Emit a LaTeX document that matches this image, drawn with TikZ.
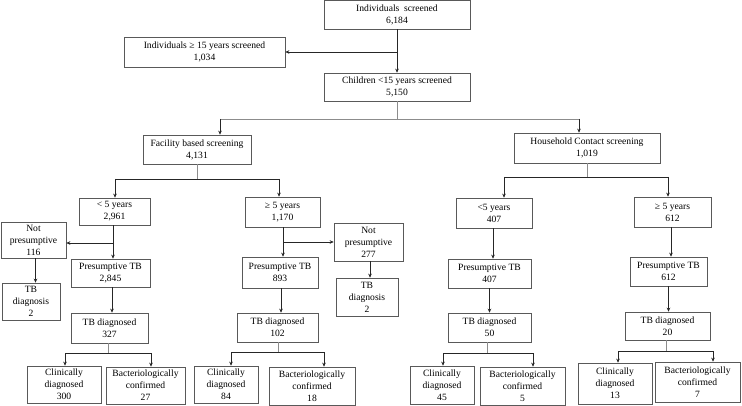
\documentclass[tikz,border=0pt]{standalone}
\usepackage{fontspec}
\setmainfont{Liberation Serif}
\usetikzlibrary{arrows.meta}
\tikzset{
  box/.style={draw=black!65, line width=0.7pt, fill=white, align=center, inner sep=0pt,
    font=\fontsize{9.6}{12}\selectfont},
  arr/.style={draw=black!85, line width=0.7pt, -{Stealth[length=4pt,width=3.6pt]}},
  ln/.style={draw=black!85, line width=0.7pt},
  stem/.style={draw=black!45, line width=0.7pt}
}
\newcommand{\bx}[6]{%
  \pgfmathsetmacro{\cxx}{(#2+#3)/2}\pgfmathsetmacro{\cyy}{(#4+#5)/2}%
  \pgfmathsetmacro{\ww}{#3-#2}\pgfmathsetmacro{\hh}{#5-#4}%
  \node[box, minimum width=\ww pt, minimum height=\hh pt] (#1) at (\cxx,\cyy) {#6};}
\begin{document}
\begin{tikzpicture}[x=1pt,y=-1pt]
\useasboundingbox[fill=white] (0,0) rectangle (742,406);
% boxes
\bx{top}{324}{470}{0.6}{29}{Individuals~ screened\\6,184}
\bx{adult}{124}{285}{37}{67}{Individuals ≥ 15 years screened\\1,034}
\bx{children}{324}{470}{73}{101}{Children <15 years screened\\5,150}
\bx{facility}{143}{251}{135}{164}{Facility based screening\\4,131}
\bx{household}{514}{660}{133}{163}{Household Contact screening\\1,019}
\bx{fu}{79}{150}{198}{225}{< 5 years\\2,961}
\bx{fo}{245}{320}{197}{227}{≥ 5 years\\1,170}
\bx{hu}{456}{532}{198}{228}{<5 years\\407}
\bx{ho}{634}{711}{197}{227}{≥ 5 years\\612}
\bx{npa}{1}{66}{222}{258}{Not\\presumptive\\116}
\bx{npb}{334}{403}{223}{261}{Not\\presumptive\\277}
\bx{tdxa}{2}{60}{283}{320}{TB\\diagnosis\\2}
\bx{tdxb}{336}{398}{278}{316}{TB\\diagnosis\\2}
\bx{pta}{71}{150}{259}{287}{Presumptive TB\\2,845}
\bx{ptb}{242}{318}{257}{288}{Presumptive TB\\893}
\bx{ptc}{448}{531}{259}{288}{Presumptive TB\\407}
\bx{ptd}{630}{707}{257}{286}{Presumptive TB\\612}
\bx{tda}{71}{148}{313}{343}{TB diagnosed\\327}
\bx{tdb}{237}{318}{313}{342}{TB diagnosed\\102}
\bx{tdc}{448}{531}{313}{342}{TB diagnosed\\50}
\bx{tdd}{625}{710}{312}{340}{TB diagnosed\\20}
\bx{cda}{27}{101}{366}{403}{Clinically\\diagnosed\\300}
\bx{bca}{106}{185}{367}{404}{Bacteriologically\\confirmed\\27}
\bx{cdb}{194}{258}{366}{403}{Clinically\\diagnosed\\84}
\bx{bcb}{269}{355}{367}{405}{Bacteriologically\\confirmed\\18}
\bx{cdc}{410}{474}{366}{404}{Clinically\\diagnosed\\45}
\bx{bcc}{480}{565}{367}{405}{Bacteriologically\\confirmed\\5}
\bx{cdd}{578}{652}{363}{404}{Clinically\\diagnosed\\13}
\bx{bcd}{655}{740}{362}{402}{Bacteriologically\\confirmed\\7}
% junction coordinates
\coordinate (j0) at (397,52);
\coordinate (cs) at (397,119);
\coordinate (cl) at (220,119);
\coordinate (cr) at (579,119);
\coordinate (fs) at (197,179);
\coordinate (fl) at (115,179);
\coordinate (fr) at (279,179);
\coordinate (hs) at (587,177);
\coordinate (hl) at (504,177);
\coordinate (hr) at (668,177);
\coordinate (ja) at (113,243);
\coordinate (jb) at (283,242);
\coordinate (ta) at (108,353);
\coordinate (tal) at (65,353);
\coordinate (tar) at (151,353);
\coordinate (tb) at (278,352);
\coordinate (tbl) at (231,352);
\coordinate (tbr) at (324,352);
\coordinate (tc) at (487,353);
\coordinate (tcl) at (443,353);
\coordinate (tcr) at (533,353);
\coordinate (td) at (666,351);
\coordinate (tdl) at (618,351);
\coordinate (tdr) at (713,351);
% top
\draw[arr] (top.south) -- (children.north);
\draw[arr] (j0) -- (adult.east);
% children split
\draw[stem] (children.south) -- (cs);
\draw[stem] (cl) -- (cr);
\draw[arr] (cl) -- (cl |- facility.north);
\draw[arr] (cr) -- (cr |- household.north);
% facility split
\draw[stem] (facility.south) -- (fs);
\draw[ln] (fl) -- (fr);
\draw[arr] (fl) -- (fl |- fu.north);
\draw[arr] (fr) -- (fr |- fo.north);
% household split
\draw[stem] (household.south) -- (hs);
\draw[ln] (hl) -- (hr);
\draw[arr] (hl) -- (hl |- hu.north);
\draw[arr] (hr) -- (hr |- ho.north);
% age groups to presumptive
\draw[arr] (ja |- fu.south) -- (ja |- pta.north);
\draw[arr] (ja) -- (npa.east |- ja);
\draw[arr] (jb |- fo.south) -- (jb |- ptb.north);
\draw[arr] (jb) -- (npb.west |- jb);
\draw[arr] ([xshift=2pt]npa.south) -- ([xshift=2pt]npa.south |- tdxa.north);
\draw[arr] ([xshift=1.5pt]npb.south) -- ([xshift=1.5pt]npb.south |- tdxb.north);
\draw[arr] ([xshift=-1pt]hu.south) -- ([xshift=-1pt]hu.south |- ptc.north);
\draw[arr] ([xshift=-1.5pt]ho.south) -- ([xshift=-1.5pt]ho.south |- ptd.north);
% presumptive to diagnosed
\draw[arr] ([xshift=1.5pt]pta.south) -- ([xshift=1.5pt]pta.south |- tda.north);
\draw[arr] ([xshift=1pt]ptb.south) -- ([xshift=1pt]ptb.south |- tdb.north);
\draw[arr] (ptc.south) -- (ptc.south |- tdc.north);
\draw[arr] (ptd.south) -- (ptd.south |- tdd.north);
% diagnosed splits
\draw[stem] (ta |- tda.south) -- (ta);
\draw[ln] (tal) -- (tar);
\draw[arr] (tal) -- (tal |- cda.north);
\draw[arr] (tar) -- (tar |- bca.north);
\draw[stem] (tb |- tdb.south) -- (tb);
\draw[ln] (tbl) -- (tbr);
\draw[arr] (tbl) -- (tbl |- cdb.north);
\draw[arr] (tbr) -- (tbr |- bcb.north);
\draw[stem] (tc |- tdc.south) -- (tc);
\draw[ln] (tcl) -- (tcr);
\draw[arr] (tcl) -- (tcl |- cdc.north);
\draw[arr] (tcr) -- (tcr |- bcc.north);
\draw[stem] (td |- tdd.south) -- (td);
\draw[ln] (tdl) -- (tdr);
\draw[arr] (tdl) -- (tdl |- cdd.north);
\draw[arr] (tdr) -- (tdr |- bcd.north);
\end{tikzpicture}
\end{document}
